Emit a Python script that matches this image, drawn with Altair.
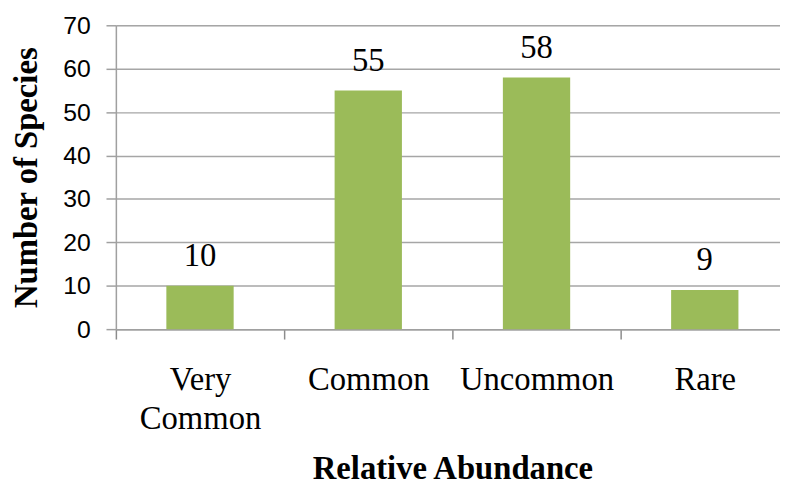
import altair as alt
import pandas as pd

categories = ["Very Common", "Common", "Uncommon", "Rare"]
species = [10, 55, 58, 9]

df = pd.DataFrame({"abundance": categories, "count": species})

x_enc = alt.X(
    "abundance:N",
    sort=categories,
    scale=alt.Scale(range=[0, 680], paddingInner=0, paddingOuter=0),
    axis=alt.Axis(
        title="Relative Abundance",
        labelAngle=0,
        labelFont="Liberation Serif",
        labelFontSize=33,
        labelColor="#000000",
        labelPadding=25,
        labelLineHeight=39,
        labelExpr="datum.label == 'Very Common' ? ['Very', 'Common'] : datum.label",
        labelBaseline="top",
        tickBand="extent",
        tickSize=10,
        tickColor="#8C8C8C",
        tickWidth=1.5,
        domainColor="#A0A0A0",
        domainWidth=1.5,
        titleFont="Liberation Serif",
        titleFontSize=33,
        titleFontWeight="bold",
        titleColor="#000000",
        titlePadding=18,
    ),
)

y_enc = alt.Y(
    "count:Q",
    scale=alt.Scale(domain=[0, 70], nice=False),
    axis=alt.Axis(
        title="Number of Species",
        values=[0, 10, 20, 30, 40, 50, 60, 70],
        labelFont="Liberation Sans",
        labelFontSize=25,
        labelColor="#000000",
        labelPadding=16,
        tickSize=10,
        tickColor="#A0A0A0",
        tickWidth=1.5,
        domainColor="#A0A0A0",
        domainWidth=1.5,
        grid=True,
        gridColor="#A6A6A6",
        gridWidth=1.5,
        titleFont="Liberation Serif",
        titleFontSize=33,
        titleFontWeight="bold",
        titleColor="#000000",
        titlePadding=19,
    ),
)

bars = alt.Chart(df).mark_bar(color="#9BBB59", width=68).encode(x=x_enc, y=y_enc)

labels = alt.Chart(df).mark_text(
    font="Liberation Serif", fontSize=33, color="#000000", baseline="alphabetic", dy=-20
).encode(
    x=alt.X("abundance:N", sort=categories),
    y=alt.Y("count:Q"),
    text="count:Q",
)

chart = (
    alt.layer(bars, labels)
    .properties(
        width=671,
        height=307,
        autosize=alt.AutoSizeParams(type="none"),
        padding={"left": 109, "top": 15, "right": 0, "bottom": 154},
    )
    .configure_view(stroke=None)
    .configure(background="#FFFFFF")
)

chart.save("out.html", embed_options={"renderer": "svg", "actions": False})
